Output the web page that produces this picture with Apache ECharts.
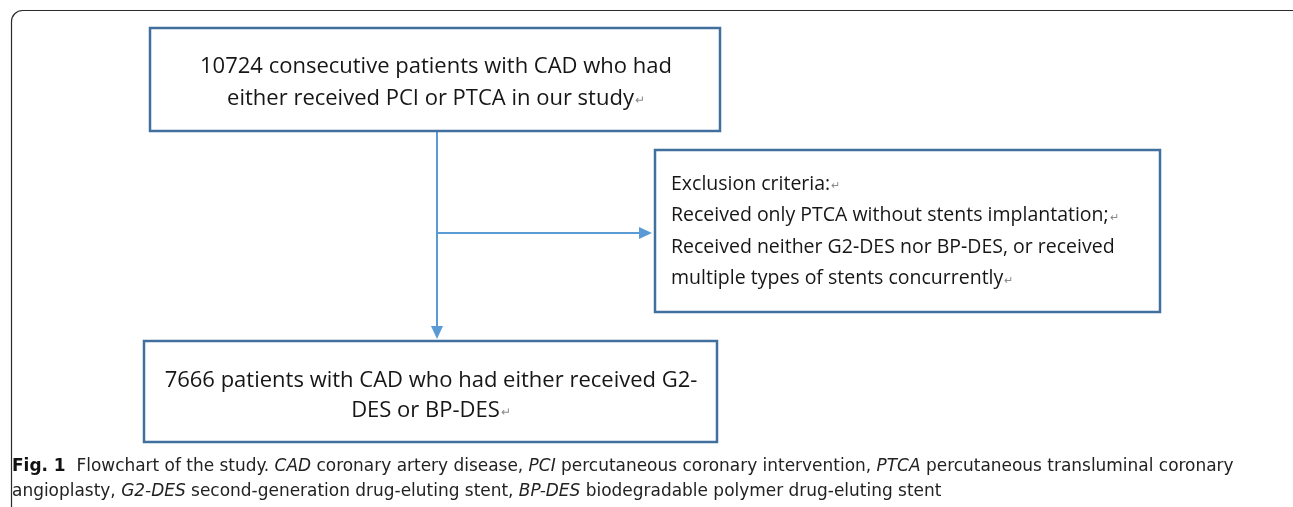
<!DOCTYPE html>
<html>
<head>
<meta charset="utf-8">
<script src="https://cdn.jsdelivr.net/npm/echarts@6/dist/echarts.min.js"></script>
<style>
  html, body { margin: 0; padding: 0; background: #fff; }
  #main { width: 1293px; height: 507px; }
</style>
</head>
<body>
<div id="main"></div>
<script>
// ---- content ----
var topBoxLines = ["10724 consecutive patients with CAD who had", "either received PCI or PTCA in our study"];
var topBoxMarks = [false, true];
var exclusionLines = [
  "Exclusion criteria:",
  "Received only PTCA without stents implantation;",
  "Received neither G2\u2010DES nor BP\u2010DES, or received",
  "multiple types of stents concurrently"
];
var exclusionMarks = [true, true, false, true];
var bottomBoxLines = ["7666 patients with CAD who had either received G2-", "DES or BP-DES"];
var bottomBoxMarks = [false, true];
var captionLine1 = [
  ["b", "Fig. 1"], ["n", "  Flowchart of the study. "], ["i", "CAD"], ["n", " coronary artery disease, "],
  ["i", "PCI"], ["n", " percutaneous coronary intervention, "], ["i", "PTCA"],
  ["n", " percutaneous transluminal coronary"]
];
var captionLine2 = [
  ["n", "angioplasty, "], ["i", "G2-DES"], ["n", " second-generation drug-eluting stent, "],
  ["i", "BP-DES"], ["n", " biodegradable polymer drug-eluting stent"]
];

// ---- styles / layout ----
var BOX_COLOR = '#41709f';
var ARROW_COLOR = '#5b9bd5';
var TEXT_COLOR = '#161616';
var BOX_FONT = '"Open Sans", "Noto Sans", sans-serif';
var CAP_FONT = '"Liberation Sans Narrow", "DejaVu Sans Condensed", "Roboto", sans-serif';
var CAP_SIZE = 18;
var CAP_SCALE = 1.047;

function esc(s) { return s.replace(/[{}|]/g, ''); }

function boxText(lines, marks, x, y0, lh, size, align, sx) {
  return lines.map(function (t, i) {
    return {
      type: 'text',
      x: x, y: y0 + i * lh,
      scaleX: sx || 1,
      style: {
        text: '{t|' + t + '}' + (marks[i] ? '{m|\u21B5}' : ''),
        x: 0, y: 0,
        align: align, verticalAlign: 'middle',
        rich: {
          t: { fontFamily: BOX_FONT, fontSize: size, fill: TEXT_COLOR, fontWeight: 400 },
          m: { fontFamily: BOX_FONT, fontSize: Math.round(size * 0.55), fill: '#8a8a8a', padding: [Math.round(size*0.2),0,0,1] }
        }
      }
    };
  });
}

function captionText(parts, x, y) {
  var s = parts.map(function (p) { return '{' + p[0] + '|' + esc(p[1]) + '}'; }).join('');
  return {
    type: 'text',
    x: x, y: y, scaleX: CAP_SCALE,
    style: {
      text: s, x: 0, y: 0, align: 'left', verticalAlign: 'middle',
      rich: {
        b: { fontFamily: CAP_FONT, fontSize: CAP_SIZE, fontWeight: 'bold', fill: '#111' },
        n: { fontFamily: CAP_FONT, fontSize: CAP_SIZE, fill: '#222' },
        i: { fontFamily: CAP_FONT, fontSize: CAP_SIZE, fontStyle: 'italic', fill: '#222' }
      }
    }
  };
}

function rect(x, y, w, h) {
  return { type: 'rect', shape: { x: x, y: y, width: w, height: h },
    style: { fill: '#fff', stroke: BOX_COLOR, lineWidth: 2.5 } };
}

var elements = [];
// outer frame
elements.push({ type: 'rect', shape: { x: 11.5, y: 10.5, width: 1300, height: 620, r: 11 },
  style: { fill: 'none', stroke: '#2a2a2a', lineWidth: 1.2 } });

// connectors
elements.push({ type: 'line', shape: { x1: 437, y1: 131, x2: 437, y2: 328 }, style: { stroke: ARROW_COLOR, lineWidth: 2 } });
elements.push({ type: 'polygon', shape: { points: [[431, 326], [443, 326], [437, 339]] }, style: { fill: ARROW_COLOR } });
elements.push({ type: 'line', shape: { x1: 437, y1: 233, x2: 641, y2: 233 }, style: { stroke: ARROW_COLOR, lineWidth: 2 } });
elements.push({ type: 'polygon', shape: { points: [[639, 227], [639, 239], [652, 233]] }, style: { fill: ARROW_COLOR } });

// boxes
elements.push(rect(150, 28, 570, 103));
elements.push(rect(655, 150, 505, 162));
elements.push(rect(144, 341, 573, 101));

// texts
elements = elements.concat(boxText(topBoxLines, topBoxMarks, 436, 67, 32, 22, 'center'));
elements = elements.concat(boxText(exclusionLines, exclusionMarks, 671, 184, 31.5, 19.5, 'left'));
elements = elements.concat(boxText(bottomBoxLines, bottomBoxMarks, 431, 381, 29.5, 22, 'center'));

// caption
elements.push(captionText(captionLine1, 12, 466));
elements.push(captionText(captionLine2, 12, 491));

var chart = echarts.init(document.getElementById('main'), null, { renderer: 'canvas' });
chart.setOption({
  backgroundColor: '#fff',
  animation: false,
  graphic: { elements: elements }
});
</script>
</body>
</html>
